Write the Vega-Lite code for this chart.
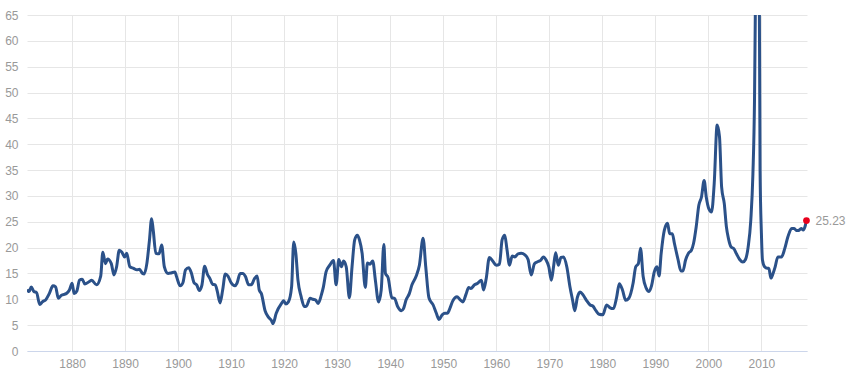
{
  "$schema": "https://vega.github.io/schema/vega-lite/v6.json",
  "width": 780,
  "height": 336,
  "autosize": {"type": "none"},
  "padding": {"left": 27, "top": 15, "right": 43, "bottom": 23},
  "background": "#ffffff",
  "config": {
    "view": {"stroke": null},
    "font": "Liberation Sans",
    "axis": {
      "labelColor": "#999999",
      "labelFontSize": 12,
      "labelFont": "Liberation Sans",
      "labelOverlap": false,
      "gridColor": "#e6e6e6",
      "gridWidth": 1,
      "ticks": false,
      "title": null
    }
  },
  "datasets": {
    "pe": [
      {"year": 1871.5, "pe": 11.9}, {"year": 1871.9, "pe": 11.5}, {"year": 1872.3, "pe": 12.4}, {"year": 1872.8, "pe": 11.5},
      {"year": 1873.3, "pe": 11.3}, {"year": 1873.9, "pe": 9.0}, {"year": 1874.4, "pe": 9.5}, {"year": 1875.1, "pe": 10.0},
      {"year": 1875.7, "pe": 11.1}, {"year": 1876.4, "pe": 12.6}, {"year": 1876.9, "pe": 12.4}, {"year": 1877.4, "pe": 10.2},
      {"year": 1878.0, "pe": 10.8}, {"year": 1878.9, "pe": 11.1}, {"year": 1879.5, "pe": 11.8}, {"year": 1880.0, "pe": 13.1},
      {"year": 1880.4, "pe": 11.1}, {"year": 1880.9, "pe": 11.6}, {"year": 1881.4, "pe": 13.7}, {"year": 1881.9, "pe": 13.9},
      {"year": 1882.4, "pe": 12.95}, {"year": 1883.2, "pe": 13.4}, {"year": 1883.7, "pe": 13.7}, {"year": 1884.6, "pe": 12.8},
      {"year": 1885.4, "pe": 14.5}, {"year": 1885.8, "pe": 19.1}, {"year": 1886.3, "pe": 16.9}, {"year": 1886.7, "pe": 17.8},
      {"year": 1887.4, "pe": 16.9}, {"year": 1887.9, "pe": 14.7}, {"year": 1888.4, "pe": 16.3}, {"year": 1888.9, "pe": 19.5},
      {"year": 1889.4, "pe": 19.1}, {"year": 1889.9, "pe": 18.2}, {"year": 1890.3, "pe": 18.9}, {"year": 1890.9, "pe": 16.3},
      {"year": 1891.6, "pe": 16.0}, {"year": 1892.2, "pe": 15.7}, {"year": 1892.7, "pe": 15.8}, {"year": 1893.3, "pe": 15.0},
      {"year": 1893.6, "pe": 14.9}, {"year": 1894.1, "pe": 16.9}, {"year": 1894.6, "pe": 21.5}, {"year": 1895.0, "pe": 25.6},
      {"year": 1895.3, "pe": 23.4}, {"year": 1895.8, "pe": 18.9}, {"year": 1896.4, "pe": 18.8}, {"year": 1896.9, "pe": 20.5},
      {"year": 1897.4, "pe": 16.3}, {"year": 1898.1, "pe": 15.0}, {"year": 1898.7, "pe": 15.1}, {"year": 1899.4, "pe": 15.3},
      {"year": 1899.7, "pe": 14.4}, {"year": 1900.4, "pe": 12.6}, {"year": 1900.9, "pe": 13.2}, {"year": 1901.4, "pe": 15.7},
      {"year": 1902.0, "pe": 16.1}, {"year": 1902.5, "pe": 15.1}, {"year": 1903.0, "pe": 13.2}, {"year": 1903.5, "pe": 12.8},
      {"year": 1904.0, "pe": 11.7}, {"year": 1904.5, "pe": 12.8}, {"year": 1905.0, "pe": 16.4}, {"year": 1905.5, "pe": 14.9},
      {"year": 1906.0, "pe": 14.0}, {"year": 1906.5, "pe": 12.9}, {"year": 1907.0, "pe": 12.8}, {"year": 1907.4, "pe": 11.5},
      {"year": 1907.9, "pe": 9.3}, {"year": 1908.4, "pe": 11.8}, {"year": 1908.9, "pe": 14.9}, {"year": 1909.4, "pe": 14.5},
      {"year": 1910.0, "pe": 13.2}, {"year": 1910.7, "pe": 12.6}, {"year": 1911.1, "pe": 13.1}, {"year": 1911.7, "pe": 15.0},
      {"year": 1912.2, "pe": 15.0}, {"year": 1912.7, "pe": 14.4}, {"year": 1913.3, "pe": 12.8}, {"year": 1913.8, "pe": 12.8},
      {"year": 1914.4, "pe": 14.0}, {"year": 1914.9, "pe": 14.5}, {"year": 1915.3, "pe": 11.8}, {"year": 1915.7, "pe": 11.1},
      {"year": 1916.4, "pe": 7.8}, {"year": 1917.0, "pe": 6.6}, {"year": 1917.6, "pe": 5.9}, {"year": 1917.9, "pe": 5.3},
      {"year": 1918.5, "pe": 7.3}, {"year": 1919.5, "pe": 9.2}, {"year": 1919.9, "pe": 9.7}, {"year": 1920.3, "pe": 9.1},
      {"year": 1920.8, "pe": 9.5}, {"year": 1921.4, "pe": 12.4}, {"year": 1921.8, "pe": 21.1}, {"year": 1922.2, "pe": 18.9},
      {"year": 1922.6, "pe": 13.7}, {"year": 1923.2, "pe": 10.5}, {"year": 1923.8, "pe": 8.6}, {"year": 1924.2, "pe": 8.7},
      {"year": 1924.9, "pe": 10.2}, {"year": 1925.4, "pe": 10.0}, {"year": 1925.9, "pe": 9.9}, {"year": 1926.4, "pe": 9.2},
      {"year": 1927.0, "pe": 10.8}, {"year": 1927.4, "pe": 12.4}, {"year": 1927.9, "pe": 15.3}, {"year": 1928.6, "pe": 16.6},
      {"year": 1929.3, "pe": 17.5}, {"year": 1929.8, "pe": 12.8}, {"year": 1930.3, "pe": 17.7}, {"year": 1930.8, "pe": 16.3},
      {"year": 1931.2, "pe": 17.4}, {"year": 1931.7, "pe": 16.3}, {"year": 1932.3, "pe": 10.3}, {"year": 1932.8, "pe": 16.3},
      {"year": 1933.3, "pe": 21.5}, {"year": 1933.8, "pe": 22.4}, {"year": 1934.2, "pe": 21.5}, {"year": 1934.7, "pe": 18.9},
      {"year": 1935.3, "pe": 12.3}, {"year": 1935.7, "pe": 17.0}, {"year": 1936.2, "pe": 16.8}, {"year": 1936.7, "pe": 17.4},
      {"year": 1937.2, "pe": 13.7}, {"year": 1937.8, "pe": 9.5}, {"year": 1938.3, "pe": 11.8}, {"year": 1938.8, "pe": 20.6},
      {"year": 1939.1, "pe": 15.0}, {"year": 1939.6, "pe": 14.2}, {"year": 1940.3, "pe": 10.3}, {"year": 1940.8, "pe": 10.2},
      {"year": 1941.4, "pe": 8.6}, {"year": 1942.1, "pe": 7.8}, {"year": 1942.5, "pe": 8.2}, {"year": 1943.0, "pe": 9.9},
      {"year": 1943.6, "pe": 11.1}, {"year": 1944.1, "pe": 12.8}, {"year": 1944.9, "pe": 14.5}, {"year": 1945.5, "pe": 16.6},
      {"year": 1946.2, "pe": 21.8}, {"year": 1946.7, "pe": 16.3}, {"year": 1947.3, "pe": 10.3}, {"year": 1948.1, "pe": 8.9},
      {"year": 1948.7, "pe": 7.3}, {"year": 1949.2, "pe": 6.1}, {"year": 1949.8, "pe": 7.0}, {"year": 1950.3, "pe": 7.3},
      {"year": 1950.8, "pe": 7.3}, {"year": 1951.2, "pe": 8.1}, {"year": 1951.8, "pe": 9.7}, {"year": 1952.6, "pe": 10.5},
      {"year": 1953.1, "pe": 10.0}, {"year": 1953.7, "pe": 9.5}, {"year": 1954.3, "pe": 11.0}, {"year": 1954.8, "pe": 12.3},
      {"year": 1955.2, "pe": 12.1}, {"year": 1955.9, "pe": 12.8}, {"year": 1956.5, "pe": 13.1}, {"year": 1957.2, "pe": 13.7},
      {"year": 1957.6, "pe": 11.8}, {"year": 1958.1, "pe": 14.0}, {"year": 1958.7, "pe": 18.1}, {"year": 1959.4, "pe": 17.3},
      {"year": 1960.0, "pe": 16.6}, {"year": 1960.6, "pe": 16.8}, {"year": 1961.1, "pe": 21.5}, {"year": 1961.6, "pe": 22.4},
      {"year": 1962.0, "pe": 19.8}, {"year": 1962.5, "pe": 16.6}, {"year": 1963.0, "pe": 18.4}, {"year": 1963.5, "pe": 18.2},
      {"year": 1964.1, "pe": 18.8}, {"year": 1964.7, "pe": 18.9}, {"year": 1965.4, "pe": 18.6}, {"year": 1966.0, "pe": 17.7},
      {"year": 1966.6, "pe": 14.7}, {"year": 1967.2, "pe": 16.9}, {"year": 1967.9, "pe": 17.3}, {"year": 1968.4, "pe": 17.6},
      {"year": 1968.9, "pe": 18.2}, {"year": 1969.4, "pe": 17.6}, {"year": 1969.9, "pe": 16.3}, {"year": 1970.4, "pe": 13.7},
      {"year": 1970.8, "pe": 16.3}, {"year": 1971.2, "pe": 19.0}, {"year": 1971.7, "pe": 16.6}, {"year": 1972.2, "pe": 18.1},
      {"year": 1972.7, "pe": 18.2}, {"year": 1973.3, "pe": 16.3}, {"year": 1973.9, "pe": 12.4}, {"year": 1974.4, "pe": 9.8},
      {"year": 1974.8, "pe": 7.8}, {"year": 1975.3, "pe": 10.4}, {"year": 1975.8, "pe": 11.4}, {"year": 1976.4, "pe": 10.8},
      {"year": 1977.0, "pe": 9.8}, {"year": 1977.7, "pe": 8.9}, {"year": 1978.2, "pe": 8.7}, {"year": 1978.8, "pe": 7.8},
      {"year": 1979.4, "pe": 7.1}, {"year": 1980.1, "pe": 7.0}, {"year": 1980.8, "pe": 8.9}, {"year": 1981.4, "pe": 8.4},
      {"year": 1982.1, "pe": 8.2}, {"year": 1982.7, "pe": 10.4}, {"year": 1983.2, "pe": 13.0}, {"year": 1983.8, "pe": 11.8},
      {"year": 1984.4, "pe": 9.8}, {"year": 1985.0, "pe": 10.2}, {"year": 1985.8, "pe": 13.1}, {"year": 1986.3, "pe": 16.3},
      {"year": 1986.8, "pe": 16.9}, {"year": 1987.2, "pe": 19.9}, {"year": 1987.7, "pe": 14.4}, {"year": 1988.3, "pe": 12.1},
      {"year": 1988.8, "pe": 11.5}, {"year": 1989.3, "pe": 12.7}, {"year": 1989.8, "pe": 15.3}, {"year": 1990.3, "pe": 16.3},
      {"year": 1990.7, "pe": 14.5}, {"year": 1991.1, "pe": 18.9}, {"year": 1991.7, "pe": 23.4}, {"year": 1992.3, "pe": 24.7},
      {"year": 1992.7, "pe": 22.7}, {"year": 1993.2, "pe": 22.7}, {"year": 1993.6, "pe": 20.8}, {"year": 1994.3, "pe": 17.6},
      {"year": 1994.8, "pe": 15.5}, {"year": 1995.2, "pe": 15.5}, {"year": 1995.7, "pe": 17.6}, {"year": 1996.3, "pe": 19.0},
      {"year": 1996.8, "pe": 19.5}, {"year": 1997.2, "pe": 20.8}, {"year": 1997.7, "pe": 24.0}, {"year": 1998.2, "pe": 28.2},
      {"year": 1998.7, "pe": 29.8}, {"year": 1999.2, "pe": 33.0}, {"year": 1999.6, "pe": 29.8}, {"year": 2000.1, "pe": 27.5},
      {"year": 2000.6, "pe": 26.9}, {"year": 2001.1, "pe": 32.4}, {"year": 2001.65, "pe": 43.7}, {"year": 2002.1, "pe": 41.4},
      {"year": 2002.5, "pe": 31.7}, {"year": 2003.0, "pe": 28.5}, {"year": 2003.4, "pe": 24.0}, {"year": 2003.8, "pe": 21.7},
      {"year": 2004.3, "pe": 20.1}, {"year": 2004.8, "pe": 19.8}, {"year": 2005.3, "pe": 18.8}, {"year": 2005.9, "pe": 17.7},
      {"year": 2006.5, "pe": 17.2}, {"year": 2007.0, "pe": 17.7}, {"year": 2007.5, "pe": 20.1}, {"year": 2008.0, "pe": 25.3},
      {"year": 2008.4, "pe": 34.3}, {"year": 2008.7, "pe": 48.5}, {"year": 2008.9, "pe": 70.9}, {"year": 2009.1, "pe": 95.0},
      {"year": 2009.3, "pe": 115.0}, {"year": 2009.4, "pe": 123.7}, {"year": 2009.5, "pe": 105.0}, {"year": 2009.6, "pe": 70.0},
      {"year": 2009.75, "pe": 35.0}, {"year": 2010.0, "pe": 22.8}, {"year": 2010.2, "pe": 17.6}, {"year": 2010.6, "pe": 16.3},
      {"year": 2011.1, "pe": 16.0}, {"year": 2011.4, "pe": 16.0}, {"year": 2011.8, "pe": 14.1}, {"year": 2012.2, "pe": 15.0},
      {"year": 2012.6, "pe": 16.3}, {"year": 2013.1, "pe": 18.2}, {"year": 2013.8, "pe": 18.2}, {"year": 2014.4, "pe": 19.8},
      {"year": 2015.0, "pe": 22.1}, {"year": 2015.7, "pe": 23.7}, {"year": 2016.2, "pe": 23.7}, {"year": 2016.6, "pe": 23.3},
      {"year": 2017.0, "pe": 23.3}, {"year": 2017.5, "pe": 23.7}, {"year": 2017.9, "pe": 23.4}, {"year": 2018.2, "pe": 24.0},
      {"year": 2018.5, "pe": 25.23}
    ],
    "last": [{"year": 2018.5, "pe": 25.23, "label": "25.23"}]
  },
  "encoding": {
    "x": {
      "field": "year", "type": "quantitative",
      "scale": {"domain": [1871.5, 2018.6], "nice": false, "zero": false},
      "axis": {"values": [1880, 1890, 1900, 1910, 1920, 1930, 1940, 1950, 1960, 1970, 1980, 1990, 2000, 2010], "format": "d", "grid": true, "domain": true, "domainColor": "#ccd6eb", "labelPadding": 7, "labelFlush": false}
    },
    "y": {
      "field": "pe", "type": "quantitative",
      "scale": {"domain": [0, 65], "nice": false},
      "axis": {"values": [0, 5, 10, 15, 20, 25, 30, 35, 40, 45, 50, 55, 60, 65], "grid": true, "domain": false, "labelPadding": 9}
    }
  },
  "layer": [
    {
      "data": {"name": "pe"},
      "mark": {"type": "line", "color": "#2b5189", "strokeWidth": 3, "clip": true, "interpolate": "monotone", "strokeJoin": "round"}
    },
    {
      "data": {"name": "last"},
      "mark": {"type": "point", "filled": true, "color": "#e8001c", "size": 45, "opacity": 1}
    },
    {
      "data": {"name": "last"},
      "mark": {"type": "text", "align": "left", "baseline": "middle", "dx": 9, "color": "#999999", "fontSize": 12, "font": "Liberation Sans"},
      "encoding": {
        "text": {"field": "label", "type": "nominal"}
      }
    }
  ]
}
